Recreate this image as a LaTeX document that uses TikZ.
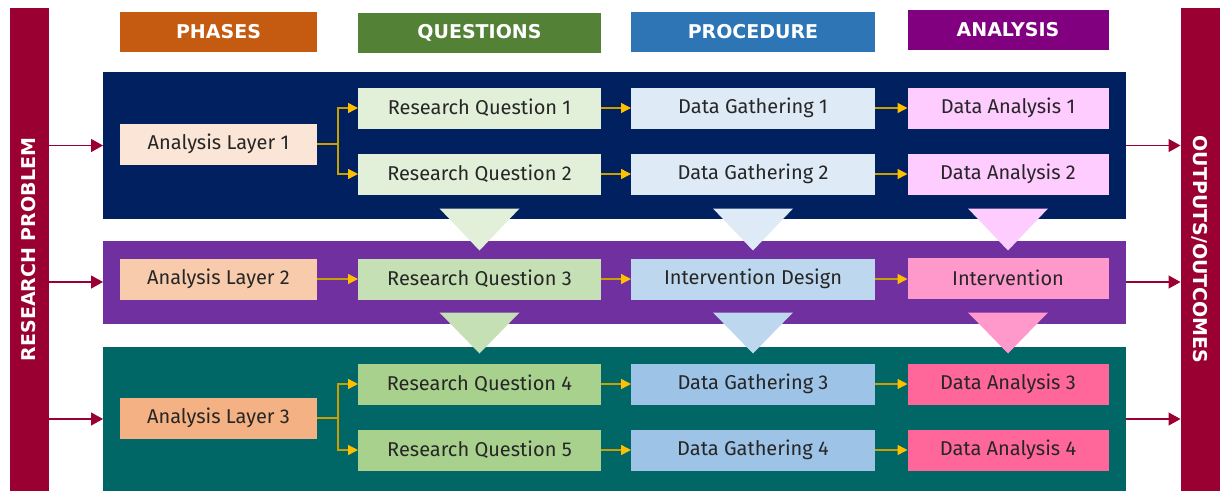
\documentclass[tikz,border=0pt]{standalone}
\usepackage{fontspec}
\setmainfont{Fira Sans}
\newfontfamily\headfont{DejaVu Sans}
\usetikzlibrary{arrows.meta}

\definecolor{barred}{HTML}{9B0032}
\definecolor{hdphase}{HTML}{C55A11}
\definecolor{hdquest}{HTML}{538135}
\definecolor{hdproc}{HTML}{2E75B6}
\definecolor{hdanal}{HTML}{800080}
\definecolor{navy}{HTML}{002060}
\definecolor{violet}{HTML}{7030A0}
\definecolor{teal}{HTML}{006666}
\definecolor{orangeA}{HTML}{FBE5D6}
\definecolor{orangeB}{HTML}{F8CBAD}
\definecolor{orangeC}{HTML}{F4B183}
\definecolor{greenA}{HTML}{E2F0D9}
\definecolor{greenB}{HTML}{C5E0B4}
\definecolor{greenC}{HTML}{A9D18E}
\definecolor{blueA}{HTML}{DEEBF7}
\definecolor{blueB}{HTML}{BDD7EE}
\definecolor{blueC}{HTML}{9DC3E6}
\definecolor{pinkA}{HTML}{FFCCFF}
\definecolor{pinkB}{HTML}{FF99CC}
\definecolor{pinkC}{HTML}{FF6699}
\definecolor{gold}{HTML}{FFC000}
\definecolor{goldline}{HTML}{C9A000}

\begin{document}
\begin{tikzpicture}[x=1pt,y=-1pt]
   \tikzstyle{every node}=[inner sep=0pt, outer sep=0pt]
   \tikzstyle{sidebar}=[fill=barred, minimum width=39pt, minimum height=483pt, text=white, font=\fontsize{19}{22}\selectfont\headfont\bfseries]
   \tikzstyle{header}=[minimum height=40pt, text=white, font=\fontsize{19}{22}\selectfont\headfont\bfseries]
   \tikzstyle{panel}=[minimum width=1023pt]
   \tikzstyle{box}=[minimum height=41pt, text=black!85, font=\fontsize{20}{24}\selectfont]
   \tikzstyle{phase}=[box, minimum width=197pt]
   \tikzstyle{quest}=[box, minimum width=243pt]
   \tikzstyle{proc}=[box, minimum width=244pt]
   \tikzstyle{anal}=[box, minimum width=201pt]
   \tikzstyle{link}=[draw=goldline, line width=1.4pt, -{Triangle[length=10pt, width=10pt, color=gold]}]
   \tikzstyle{flow}=[draw=barred, line width=1.3pt, -{Triangle[length=12pt, width=13pt]}]

\useasboundingbox (0,0) rectangle (1224,491);

% side bars
\node[sidebar] (rp) at (29,249.5) {\rotatebox{90}{RESEARCH PROBLEM}};
\node[sidebar] (oc) at (1200,249.5) {\rotatebox{-90}{OUTPUTS/OUTCOMES}};

% column headers
\node[header, fill=hdphase, minimum width=197pt] (hphase) at (218.5,32) {PHASES};
\node[header, fill=hdquest, minimum width=243pt] (hquest) at (479.5,32.5) {QUESTIONS};
\node[header, fill=hdproc, minimum width=244pt] (hproc) at (753,32) {PROCEDURE};
\node[header, fill=hdanal, minimum width=201pt] (hanal) at (1008,30) {ANALYSIS};

% layer panels
\node[panel, fill=navy, minimum height=147pt] (p1) at (614.5,145.5) {};
\node[panel, fill=violet, minimum height=83pt] (p2) at (614.5,282) {};
\node[panel, fill=teal, minimum height=144pt] (p3) at (614.5,419) {};

% layer 1
\node[phase, fill=orangeA] (al1) at (218.5,144) {Analysis Layer 1};
\node[quest, fill=greenA] (rq1) at (479.5,108) {Research Question 1};
\node[quest, fill=greenA] (rq2) at (479.5,174) {Research Question 2};
\node[proc, fill=blueA] (dg1) at (753,108) {Data Gathering 1};
\node[proc, fill=blueA] (dg2) at (753,174) {Data Gathering 2};
\node[anal, fill=pinkA] (da1) at (1008,108) {Data Analysis 1};
\node[anal, fill=pinkA] (da2) at (1008,174) {Data Analysis 2};

% layer 2
\node[phase, fill=orangeB] (al2) at (218.5,279) {Analysis Layer 2};
\node[quest, fill=greenB] (rq3) at (479.5,279) {Research Question 3};
\node[proc, fill=blueB] (idsg) at (753,279) {Intervention Design};
\node[anal, fill=pinkB] (intv) at (1008,278) {Intervention};

% layer 3
\node[phase, fill=orangeC] (al3) at (218.5,418) {Analysis Layer 3};
\node[quest, fill=greenC] (rq4) at (479.5,384) {Research Question 4};
\node[quest, fill=greenC] (rq5) at (479.5,450) {Research Question 5};
\node[proc, fill=blueC] (dg3) at (753,384) {Data Gathering 3};
\node[proc, fill=blueC] (dg4) at (753,450) {Data Gathering 4};
\node[anal, fill=pinkC] (da3) at (1008,384) {Data Analysis 3};
\node[anal, fill=pinkC] (da4) at (1008,450) {Data Analysis 4};

% down triangles between layers
\fill[greenA] (rq2.south) ++(-40,14) -- ++(80,0) -- ++(-40,42) -- cycle;
\fill[blueA] (dg2.south) ++(-40,14) -- ++(80,0) -- ++(-40,42) -- cycle;
\fill[pinkA] (da2.south) ++(-40,14) -- ++(80,0) -- ++(-40,42) -- cycle;
\fill[greenB] (rq3.south) ++(-40,13) -- ++(80,0) -- ++(-40,41) -- cycle;
\fill[blueB] (idsg.south) ++(-40,13) -- ++(80,0) -- ++(-40,41) -- cycle;
\fill[pinkB] (intv.south) ++(-40,14) -- ++(80,0) -- ++(-40,41) -- cycle;

% gold connectors
\draw[link] (al1.east) -- ++(21,0) |- (rq1.west);
\draw[link] (al1.east) -- ++(21,0) |- (rq2.west);
\draw[link] (al2.east) -- (rq3.west);
\draw[link] (al3.east) -- ++(21,0) |- (rq4.west);
\draw[link] (al3.east) -- ++(21,0) |- (rq5.west);
\draw[link] (rq1) -- (dg1);
\draw[link] (rq2) -- (dg2);
\draw[link] (rq3) -- (idsg);
\draw[link] (rq4) -- (dg3);
\draw[link] (rq5) -- (dg4);
\draw[link] (dg1) -- (da1);
\draw[link] (dg2) -- (da2);
\draw[link] (idsg) -- (intv.west |- idsg);
\draw[link] (dg3) -- (da3);
\draw[link] (dg4) -- (da4);

% problem in, outcomes out
\draw[flow] (rp.east |- p1.west) -- (p1.west);
\draw[flow] (rp.east |- p2.west) -- (p2.west);
\draw[flow] (rp.east |- p3.west) -- (p3.west);
\draw[flow] (p1.east) -- (oc.west |- p1.east);
\draw[flow] (p2.east) -- (oc.west |- p2.east);
\draw[flow] (p3.east) -- (oc.west |- p3.east);

\end{tikzpicture}
\end{document}
